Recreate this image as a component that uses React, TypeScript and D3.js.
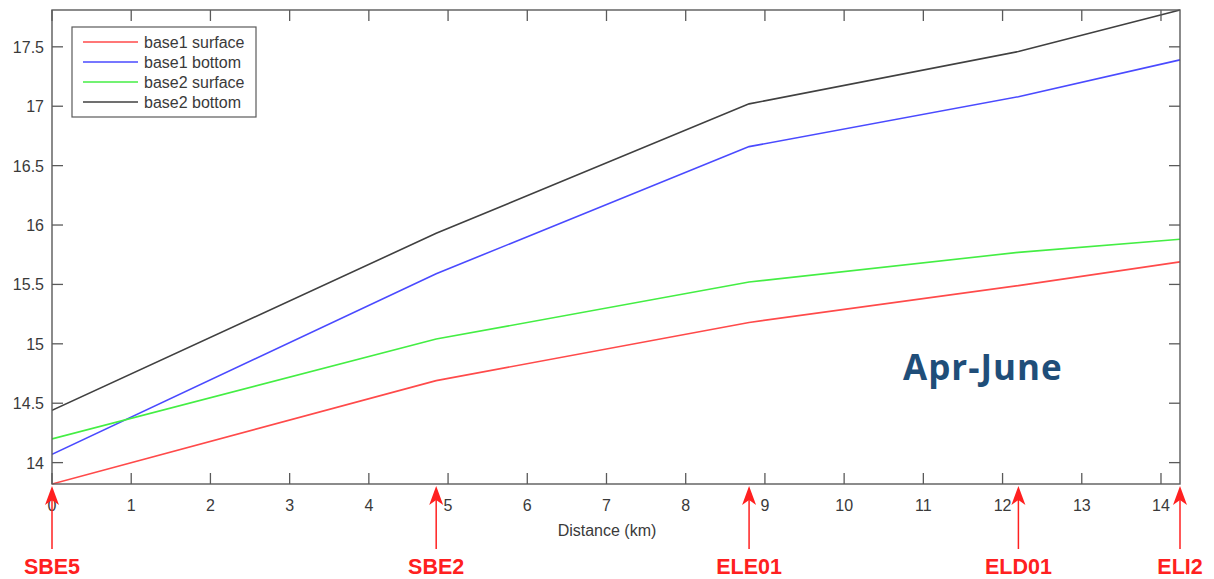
import React from "react";
import * as d3 from "d3";

const stationNames = ["SBE5", "SBE2", "ELE01", "ELD01", "ELI2"];
const stationKm = [0, 4.85, 8.8, 12.2, 14.24];

const base1Surface = [13.82, 14.69, 15.18, 15.49, 15.69];
const base1Bottom = [14.07, 15.59, 16.66, 17.08, 17.39];
const base2Surface = [14.2, 15.04, 15.52, 15.77, 15.88];
const base2Bottom = [14.44, 15.93, 17.02, 17.46, 17.81];

const seriesNames = ["base1 surface", "base1 bottom", "base2 surface", "base2 bottom"];
const seriesColors = ["#ff4a4a", "#4a4aff", "#44ee44", "#404040"];

const xTicks = d3.range(0, 15);
const yTicks = [14, 14.5, 15, 15.5, 16, 16.5, 17, 17.5];

export default function App() {
  const W = 1214, H = 579;
  const L = 52, R = 1180, T = 10, B = 484;
  const x = d3.scaleLinear().domain([0, 14.24]).range([L, R]);
  const y = d3.scaleLinear().domain([13.82, 17.81]).range([B, T]);
  const all = [base1Surface, base1Bottom, base2Surface, base2Bottom];
  const line = d3.line<number>().x((_, i) => x(stationKm[i])).y((v) => y(v));
  const axisColor = "#5a5a5a";
  const font = "Liberation Sans, Arial, sans-serif";
  return (
    <svg width={W} height={H} style={{ position: "absolute", left: 0, top: 0 }}>
      <rect width={W} height={H} fill="#fff" />
      <defs>
        <clipPath id="plotclip">
          <rect x={L} y={T - 1} width={R - L + 1} height={B - T + 2} />
        </clipPath>
      </defs>
      {/* series */}
      <g clipPath="url(#plotclip)">
        {all.map((s, k) => (
          <path key={k} d={line(s) || ""} fill="none" stroke={seriesColors[k]} strokeWidth={1.6} />
        ))}
      </g>
      {/* box */}
      <rect x={L} y={T} width={R - L} height={B - T} fill="none" stroke={axisColor} strokeWidth={1.4} />
      {/* x ticks */}
      {xTicks.map((t) => (
        <g key={"x" + t}>
          <line x1={x(t)} x2={x(t)} y1={B} y2={B - 11} stroke={axisColor} strokeWidth={1.3} />
          <line x1={x(t)} x2={x(t)} y1={T} y2={T + 11} stroke={axisColor} strokeWidth={1.3} />
          <text x={x(t)} y={511} textAnchor="middle" fontFamily={font} fontSize={16} fill="#3a3a3a">
            {t}
          </text>
        </g>
      ))}
      {/* y ticks */}
      {yTicks.map((t) => (
        <g key={"y" + t}>
          <line x1={L} x2={L + 11} y1={y(t)} y2={y(t)} stroke={axisColor} strokeWidth={1.3} />
          <line x1={R} x2={R - 11} y1={y(t)} y2={y(t)} stroke={axisColor} strokeWidth={1.3} />
          <text x={44} y={y(t) + 6} textAnchor="end" fontFamily={font} fontSize={16} fill="#3a3a3a">
            {t}
          </text>
        </g>
      ))}
      <text x={607} y={536} textAnchor="middle" fontFamily={font} fontSize={16} fill="#3a3a3a">
        Distance (km)
      </text>
      {/* legend */}
      <rect x={72} y={27} width={184} height={90} fill="#fff" stroke={axisColor} strokeWidth={1.2} />
      {seriesNames.map((n, k) => (
        <g key={n}>
          <line x1={83} x2={138} y1={42 + k * 20} y2={42 + k * 20} stroke={seriesColors[k]} strokeWidth={1.6} />
          <text x={144} y={47.5 + k * 20} fontFamily={font} fontSize={16} fill="#3a3a3a">
            {n}
          </text>
        </g>
      ))}
      {/* annotation */}
      <text x={903} y={380} fontFamily="Open Sans, Lato, sans-serif" fontWeight="bold" fontSize={35} letterSpacing={1} fill="#1f4e79">
        Apr-June
      </text>
      {/* station arrows */}
      {stationNames.map((n, i) => {
        const sx = x(stationKm[i]);
        return (
          <g key={n}>
            <line x1={sx} x2={sx} y1={549} y2={495} stroke="#ff2020" strokeWidth={1.5} />
            <path d={`M${sx},${486} L${sx - 7},${505} L${sx},${500} L${sx + 7},${505} Z`} fill="#ff2020" />
            <text x={sx} y={574} textAnchor="middle" fontFamily={font} fontWeight="bold" fontSize={21.5} fill="#ff2020">
              {n}
            </text>
          </g>
        );
      })}
    </svg>
  );
}
